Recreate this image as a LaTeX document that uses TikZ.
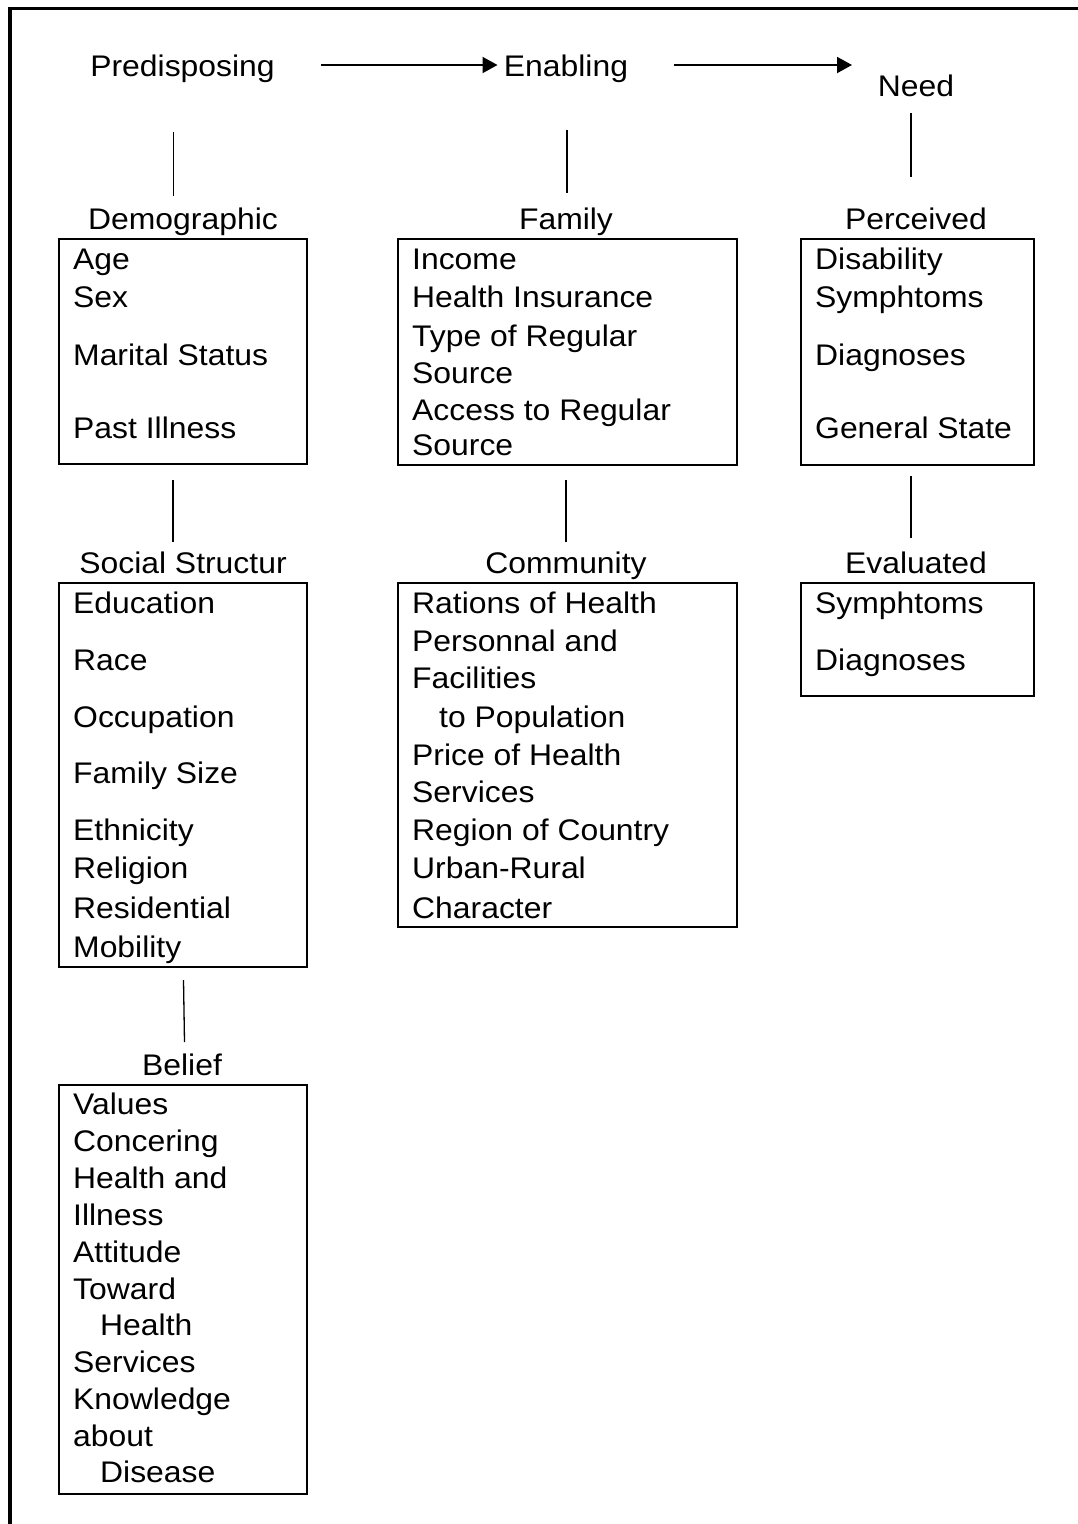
\documentclass[tikz,border=0pt]{standalone}
\usepackage{fontspec}
\setmainfont[FakeStretch=1.07]{Liberation Sans}
\usetikzlibrary{arrows.meta}
\tikzset{
  lbl/.style={anchor=base, inner sep=0pt},
  item/.style={anchor=base west, inner sep=0pt},
  catbox/.style={draw, line width=2pt, inner sep=0pt, anchor=north west},
  link/.style={line width=1.3pt},
  flow/.style={line width=2pt, -{Triangle[length=15pt,width=16pt]}},
  frameline/.style={line width=3.3pt, line join=miter}
}
\newcommand\boxitems[2]{%
  \foreach \xx/\txt/\yb [count=\i] in {#2} {\node[item] (#1\i) at (\xx,\yb) {\txt};}}
\begin{document}
\begin{tikzpicture}[x=1pt,y=-1pt]
\fontsize{29.8}{37}\selectfont
\useasboundingbox (0,0) rectangle (1078,1524);
% frame
\coordinate (fcorner) at (10,8.3);
\coordinate (fbottom) at (10,1530);
\coordinate (fright) at (1085,8.3);
\draw[frameline] (fbottom) -- (fcorner) -- (fright);

% top-level labels
\node[lbl] (pred) at (182.5,76) {Predisposing};
\node[lbl] (enab) at (566,76) {Enabling};
\node[lbl] (need) at (916,96) {Need};

\coordinate (a1s) at (321,65);
\coordinate (a1e) at (497.5,65);
\coordinate (a2s) at (674,65);
\coordinate (a2e) at (852,65);
\draw[flow] (a1s) -- (a1e);
\draw[flow] (a2s) -- (a2e);

% second level headers
\node[lbl] (demo) at (183,229) {Demographic};
\node[lbl] (fam) at (566,229) {Family};
\node[lbl] (perc) at (916,229) {Perceived};

\coordinate (l1a) at (173.5,132); \coordinate (l1b) at (173.5,196);
\coordinate (l2a) at (567,130);   \coordinate (l2b) at (567,193);
\coordinate (l3a) at (911,113);   \coordinate (l3b) at (911,177);
\draw[link] (l1a) -- (l1b);
\draw[link] (l2a) -- (l2b);
\draw[link] (l3a) -- (l3b);

% boxes row 1
\node[catbox, minimum width=248pt, minimum height=225pt] (dbox) at (58,238) {};
\node[catbox, minimum width=339pt, minimum height=226pt] (fbox) at (397,238) {};
\node[catbox, minimum width=233pt, minimum height=226pt] (pbox) at (800,238) {};

\boxitems{d}{73/Age/269, 73/Sex/307, 73/Marital Status/365, 73/Past Illness/438}
\boxitems{f}{412/Income/269, 412/Health Insurance/307, 412/Type of Regular/346, 412/Source/383, 412/Access to Regular/420, 412/Source/455}
\boxitems{p}{815/Disability/269, 815/Symphtoms/307, 815/Diagnoses/365, 815/General State/438}

% links row 2
\coordinate (l4a) at (173,480); \coordinate (l4b) at (173,542);
\coordinate (l5a) at (566,480); \coordinate (l5b) at (566,542);
\coordinate (l6a) at (911,476); \coordinate (l6b) at (911,538);
\draw[link] (l4a) -- (l4b);
\draw[link] (l5a) -- (l5b);
\draw[link] (l6a) -- (l6b);

\node[lbl] (soc) at (183,573) {Social Structur};
\node[lbl] (comm) at (566,573) {Community};
\node[lbl] (eval) at (916,573) {Evaluated};

\node[catbox, minimum width=248pt, minimum height=384pt] (sbox) at (58,582) {};
\node[catbox, minimum width=339pt, minimum height=344pt] (cbox) at (397,582) {};
\node[catbox, minimum width=233pt, minimum height=113pt] (ebox) at (800,582) {};

\boxitems{s}{73/Education/613, 73/Race/670, 73/Occupation/727, 73/Family Size/783, 73/Ethnicity/840, 73/Religion/878, 73/Residential/918, 73/Mobility/957}
\boxitems{c}{412/Rations of Health/613, 412/Personnal and/651, 412/Facilities/688, 439/to Population/727, 412/Price of Health/765, 412/Services/802, 412/Region of Country/840, 412/Urban-Rural/878, 412/Character/918}
\boxitems{e}{815/Symphtoms/613, 815/Diagnoses/670}

% belief
\coordinate (l7a) at (183.5,980); \coordinate (l7b) at (184.5,1042);
\draw[link] (l7a) -- (l7b);
\node[lbl] (bel) at (182,1075) {Belief};
\node[catbox, minimum width=248pt, minimum height=409pt] (bbox) at (58,1084) {};
\boxitems{b}{73/Values/1114, 73/Concering/1151, 73/Health and/1188, 73/Illness/1225, 73/Attitude/1262, 73/Toward/1299, 100/Health/1335, 73/Services/1372, 73/Knowledge/1409, 73/about/1446, 100/Disease/1482}
\end{tikzpicture}
\end{document}
